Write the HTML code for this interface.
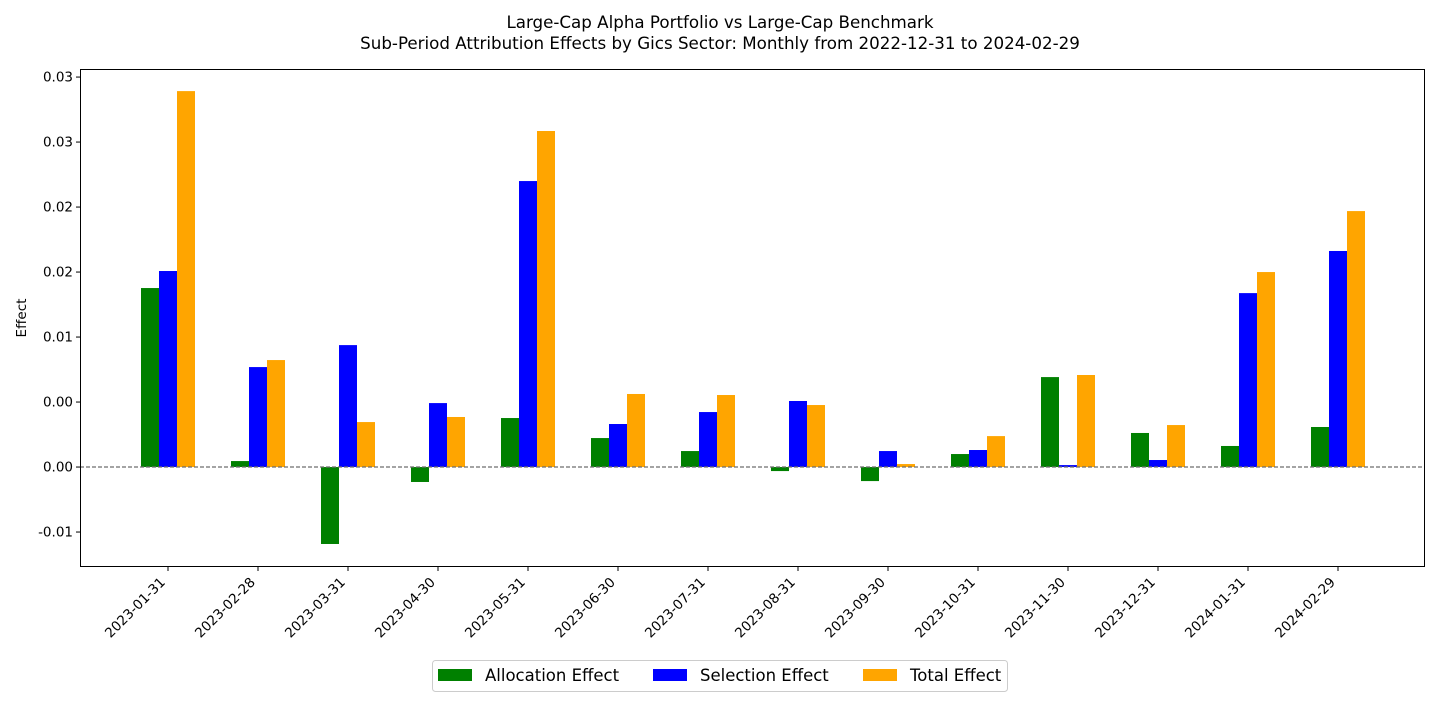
<!DOCTYPE html>
<html><head><meta charset="utf-8"><style>
body{margin:0;background:#fff;width:1440px;height:700px;overflow:hidden;font-family:"Liberation Sans","DejaVu Sans",sans-serif}
</style></head><body>
<svg id="chart" width="1440" height="700" xmlns="http://www.w3.org/2000/svg" font-family="DejaVu Sans, Liberation Sans, sans-serif"></svg>
<script>
const categories=["2023-01-31","2023-02-28","2023-03-31","2023-04-30","2023-05-31","2023-06-30","2023-07-31","2023-08-31","2023-09-30","2023-10-31","2023-11-30","2023-12-31","2024-01-31","2024-02-29"];
const allocation=[0.01377,0.00046,-0.00592,-0.00115,0.00377,0.00223,0.00123,-0.00031,-0.00108,0.00100,0.00692,0.00262,0.00162,0.00308];
const selection=[0.01508,0.00769,0.00938,0.00492,0.02200,0.00331,0.00423,0.00508,0.00123,0.00131,0.00015,0.00054,0.01338,0.01662];
const total=[0.02892,0.00823,0.00346,0.00385,0.02585,0.00562,0.00554,0.00477,0.00023,0.00238,0.00708,0.00323,0.01500,0.01969];
const tickValues=[-0.005,0,0.005,0.01,0.015,0.02,0.025,0.03];
const tickLabels=["-0.01","0.00","0.00","0.01","0.02","0.02","0.03","0.03"];
const seriesNames=["Allocation Effect","Selection Effect","Total Effect"];
const colors=["green","blue","orange"];

const svg=document.getElementById('chart');
const NS="http://www.w3.org/2000/svg";
const L=80,R=1425,T=69,B=567,yMin=-0.00769,yMax=0.03062;
const y=v=>B-(v-yMin)/(yMax-yMin)*(B-T);
const x=i=>168+i*90;
function mk(tag,attrs,parent){const e=document.createElementNS(NS,tag);for(const k in attrs)e.setAttribute(k,attrs[k]);(parent||svg).appendChild(e);return e;}
function txt(s,attrs){const e=mk('text',attrs);e.textContent=s;return e;}

let t=txt("Large-Cap Alpha Portfolio vs Large-Cap Benchmark",{x:720,y:28,'text-anchor':'middle','font-size':16.7});

t=txt("Sub-Period Attribution Effects by Gics Sector: Monthly from 2022-12-31 to 2024-02-29",{x:720,y:49,'text-anchor':'middle','font-size':16.7});


const data=[allocation,selection,total];
data.forEach((arr,s)=>{
  arr.forEach((v,i)=>{
    const x0=x(i)-27+s*18;
    const r=mk('rect',{x:x0,y:Math.min(y(v),y(0)),width:18,height:Math.abs(y(v)-y(0)),fill:colors[s]});
    
    
  });
});
const zl=mk('line',{x1:L,x2:R,y1:y(0),y2:y(0),stroke:'#6e6e6e','stroke-dasharray':'4,2','stroke-width':1.2});

const fr=mk('rect',{x:L+0.5,y:T+0.5,width:R-L-1,height:B-T-1,fill:'none',stroke:'#000','stroke-width':1});


tickValues.forEach((v,i)=>{
  mk('line',{x1:L-4,x2:L,y1:y(v),y2:y(v),stroke:'#000'});
  const e=txt(tickLabels[i],{x:L-7,y:y(v)+4.5,'text-anchor':'end','font-size':13.5});
  
});
categories.forEach((c,i)=>{
  mk('line',{x1:x(i),x2:x(i),y1:B,y2:B+4,stroke:'#000'});
  const ax=x(i)-2, ay=B+16;
  const e=txt(c,{x:ax,y:ay,'text-anchor':'end','font-size':13.5,transform:`rotate(-45 ${ax} ${ay})`});
  
});
t=txt("Effect",{x:26,y:318,'text-anchor':'middle','font-size':13.5,transform:'rotate(-90 26 318)'});


const lg=mk('g',{});

mk('rect',{x:432.5,y:660.5,width:575,height:31,rx:3,fill:'#fff',stroke:'#ccc'},lg);
const lx=[438,653,863];
seriesNames.forEach((n,s)=>{
  const g=mk('g',{},lg);
  
  mk('rect',{x:lx[s],y:669,width:34,height:12,fill:colors[s]},g);
  const e=mk('text',{x:lx[s]+47,y:681,'font-size':16.5},g);e.textContent=n;
});
</script>
</body></html>
